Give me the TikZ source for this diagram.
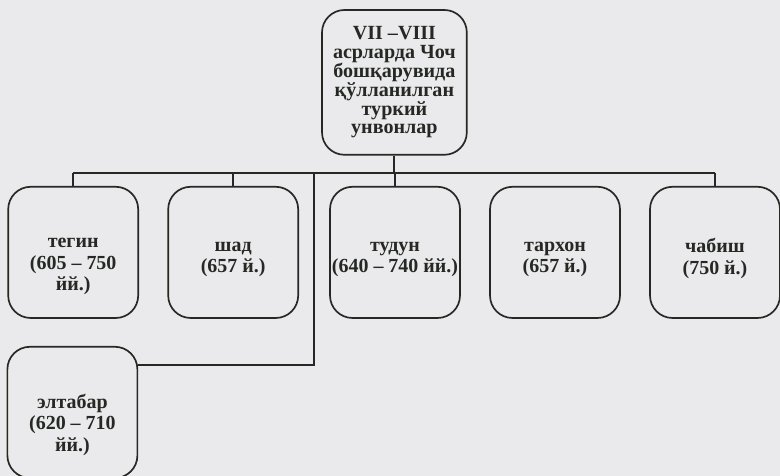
\documentclass[tikz,border=0pt]{standalone}
\usepackage{fontspec}
\setmainfont{Liberation Serif}
\usepackage{tikz}
\usetikzlibrary{positioning}
\definecolor{ScanBg}{RGB}{234,234,236}
\definecolor{InkDark}{RGB}{38,40,36}
\newcommand{\padtop}[1]{\rule{0pt}{#1}}

\begin{document}
\begin{tikzpicture}[
          box/.style={rectangle, rounded corners=16pt, draw=InkDark, line width=1.2pt,
                      minimum width=3.25cm, minimum height=3.28cm, align=center,
                      inner sep=1pt, text=InkDark,
                      font=\fontsize{14.2}{15.2}\selectfont\bfseries},
          topbox/.style={box, minimum width=3.62cm, minimum height=3.62cm,
                      font=\fontsize{14.3}{13.4}\selectfont\bfseries},
          link/.style={draw=InkDark, line width=1.3pt}
        ]
        \fill[ScanBg] (0,0) rectangle (19.5,11.9);
        \useasboundingbox (0,0) rectangle (19.5,11.9);

        \node[topbox] (root) at (9.86, 9.84)
              {VII –VIII\\асрларда Чоч\\бошқарувида\\қўлланилган\\туркий\\унвонлар};
        \node[box] (tegin)  at (1.83,  5.59) {\padtop{27pt}тегин\\(605 – 750\\йй.)};
        \node[box] (shad)   at (5.83,  5.59) {\padtop{17pt}шад\\(657 й.)};
        \node[box] (tudun)  at (9.875, 5.59) {\padtop{17pt}тудун\\(640 – 740 йй.)};
        \node[box] (tarkhon) at (13.875, 5.59) {\padtop{17pt}тархон\\(657 й.)};
        \node[box] (chabish) at (17.875, 5.59) {\padtop{19pt}чабиш\\(750 й.)};
        \node[box] (eltabar) at (1.81,  1.59) {\padtop{28pt}элтабар\\(620 – 710\\йй.)};

        \coordinate (busL) at (tegin.north |- 0,7.575);
        \coordinate (busR) at (chabish.north |- 0,7.575);
        \coordinate (elbow) at (7.85, 7.575);

        \draw[link] (root.south) -- (root.south |- busL);
        \draw[link] (busL) -- (busR);
        \draw[link] (busL) -- (tegin.north);
        \draw[link] (shad.north |- busL) -- (shad.north);
        \draw[link] (tudun.north |- busL) -- (tudun.north);
        \draw[link] (busR) -- (chabish.north);
        \draw[link] (elbow) |- (eltabar.east |- 0,2.775);
      \end{tikzpicture}
\end{document}
